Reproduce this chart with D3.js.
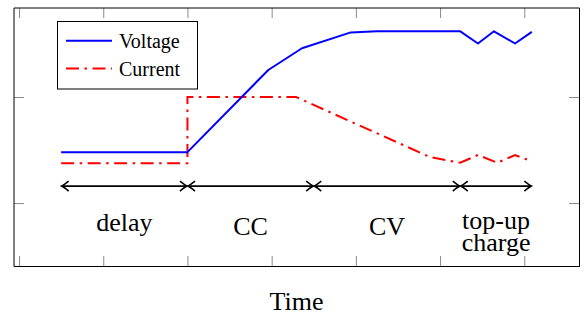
<!DOCTYPE html>
<html>
<head>
<meta charset="utf-8">
<script src="https://cdn.jsdelivr.net/npm/d3@7"></script>
<style>
  html, body { margin: 0; padding: 0; background: #fff; }
  svg { display: block; }
  text { font-family: "Liberation Serif", "DejaVu Serif", serif; fill: #000; }
</style>
</head>
<body>
<svg id="chart"></svg>
<script>
// Data (x in time units, y in arbitrary units; ticks at integers)
const voltageX = [0.5, 2, 2.96, 3.36, 3.94, 4.25, 5.24, 5.45, 5.64, 5.89, 6.09];
const voltageY = [0.48, 0.48, 1.255, 1.46, 1.61, 1.62, 1.62, 1.505, 1.62, 1.505, 1.615];

const currentX = [0.5, 2, 2, 3.29, 4.88, 5.24, 5.45, 5.68, 5.89, 6.07];
const currentY = [0.375, 0.375, 1, 1, 0.434, 0.38, 0.453, 0.38, 0.453, 0.399];

const phaseBounds = [0.5, 2, 3.5, 5.24, 6.09];
const phaseLabels = [["delay"], ["CC"], ["CV"], ["top-up", "charge"]];
const phaseArrowY = 0.16;

const xTicks = [0, 1, 2, 3, 4, 5, 6];
const yTicks = [0, 1];

const seriesNames = ["Voltage", "Current"];

// Layout
const WIDTH = 585, HEIGHT = 316;
const PLOT = { left: 14, right: 579, top: 8, bottom: 266 };

const svg = d3.select("#chart").attr("width", WIDTH).attr("height", HEIGHT);

const x = d3.scaleLinear().domain([-0.06, 6.65]).range([PLOT.left, PLOT.right]);
const y = d3.scaleLinear().domain([-0.594, 1.84]).range([PLOT.bottom, PLOT.top]);

// Ticks (inward, on all sides, no labels)
function styleAxis(g) {
    g.select(".domain").remove();
    g.selectAll(".tick line").attr("stroke", "#8a8a8a").attr("stroke-width", 1);
}
svg.append("g").attr("transform", `translate(0,${PLOT.bottom})`)
    .call(d3.axisBottom(x).tickValues(xTicks).tickSize(-10).tickFormat(""))
    .call(styleAxis);
svg.append("g").attr("transform", `translate(0,${PLOT.top})`)
    .call(d3.axisTop(x).tickValues(xTicks).tickSize(-10).tickFormat(""))
    .call(styleAxis);
svg.append("g").attr("transform", `translate(${PLOT.left},0)`)
    .call(d3.axisLeft(y).tickValues(yTicks).tickSize(-10).tickFormat(""))
    .call(styleAxis);
svg.append("g").attr("transform", `translate(${PLOT.right},0)`)
    .call(d3.axisRight(y).tickValues(yTicks).tickSize(-10).tickFormat(""))
    .call(styleAxis);

// Frame
svg.append("line").attr("x1", PLOT.left).attr("x2", PLOT.right + 0.5)
    .attr("y1", PLOT.top).attr("y2", PLOT.top).attr("stroke", "#000");
svg.append("line").attr("x1", PLOT.left).attr("x2", PLOT.left)
    .attr("y1", PLOT.top).attr("y2", PLOT.bottom + 0.5).attr("stroke", "#000");
svg.append("line").attr("x1", PLOT.left).attr("x2", PLOT.right + 1)
    .attr("y1", PLOT.bottom + 0.5).attr("y2", PLOT.bottom + 0.5).attr("stroke", "#000");
svg.append("line").attr("x1", PLOT.right + 0.5).attr("x2", PLOT.right + 0.5)
    .attr("y1", PLOT.top).attr("y2", PLOT.bottom + 0.5).attr("stroke", "#000");

// Series
const line = d3.line().x(d => x(d[0])).y(d => y(d[1]));
const DASHDOT = "13,5.5,2.5,5.5";

svg.append("path")
    .datum(currentX.map((v, i) => [v, currentY[i]]))
    .attr("d", line).attr("fill", "none")
    .attr("stroke", "#ff0000").attr("stroke-width", 2)
    .attr("stroke-dasharray", DASHDOT);

svg.append("path")
    .datum(voltageX.map((v, i) => [v, voltageY[i]]))
    .attr("d", line).attr("fill", "none")
    .attr("stroke", "#0000ff").attr("stroke-width", 2)
    .attr("stroke-linejoin", "round");

// Phase arrows
const ay = y(phaseArrowY);
function arrowHead(tipX, dir) {
    // dir = -1 points left, +1 points right
    const bx = tipX - dir * 7;
    return `M${bx},${ay - 5} Q${tipX - dir * 2},${ay - 1} ${tipX},${ay}` +
           ` Q${tipX - dir * 2},${ay + 1} ${bx},${ay + 5}`;
}
for (let i = 0; i < phaseBounds.length - 1; i++) {
    const x0 = x(phaseBounds[i]), x1 = x(phaseBounds[i + 1]);
    svg.append("line").attr("x1", x0 + 1).attr("x2", x1 - 1)
        .attr("y1", ay).attr("y2", ay)
        .attr("stroke", "#000").attr("stroke-width", 1.6);
    svg.append("path").attr("d", arrowHead(x0 + 0.5, -1))
        .attr("fill", "none").attr("stroke", "#000").attr("stroke-width", 1.6);
    svg.append("path").attr("d", arrowHead(x1 - 0.5, 1))
        .attr("fill", "none").attr("stroke", "#000").attr("stroke-width", 1.6);

    const cx = (x0 + x1) / 2;
    const lines = phaseLabels[i];
    const t = svg.append("text").attr("text-anchor", "middle")
        .attr("font-size", 26);
    const baseY = lines.length > 1 ? 229 : (i === 0 ? 231 : 235);
    lines.forEach((s, k) => {
        t.append("tspan").attr("x", cx).attr("y", baseY + k * 22).text(s);
    });
}

// Axis label
svg.append("text").attr("x", (PLOT.left + PLOT.right) / 2).attr("y", 310)
    .attr("text-anchor", "middle").attr("font-size", 26).text("Time");

// Legend
const legend = svg.append("g");
legend.append("rect").attr("x", 57.5).attr("y", 21.5).attr("width", 140).attr("height", 67.5)
    .attr("fill", "#fff").attr("stroke", "#000").attr("stroke-width", 1);
const legendStyles = [
    { color: "#0000ff", dash: null, ly: 40.7, ty: 47.5 },
    { color: "#ff0000", dash: DASHDOT, ly: 68.5, ty: 75.5 }
];
seriesNames.forEach((name, i) => {
    const s = legendStyles[i];
    legend.append("line").attr("x1", 66).attr("x2", 112).attr("y1", s.ly).attr("y2", s.ly)
        .attr("stroke", s.color).attr("stroke-width", 2)
        .attr("stroke-dasharray", s.dash);
    legend.append("text").attr("x", 119).attr("y", s.ty).attr("font-size", 20).text(name);
});
</script>
</body>
</html>
